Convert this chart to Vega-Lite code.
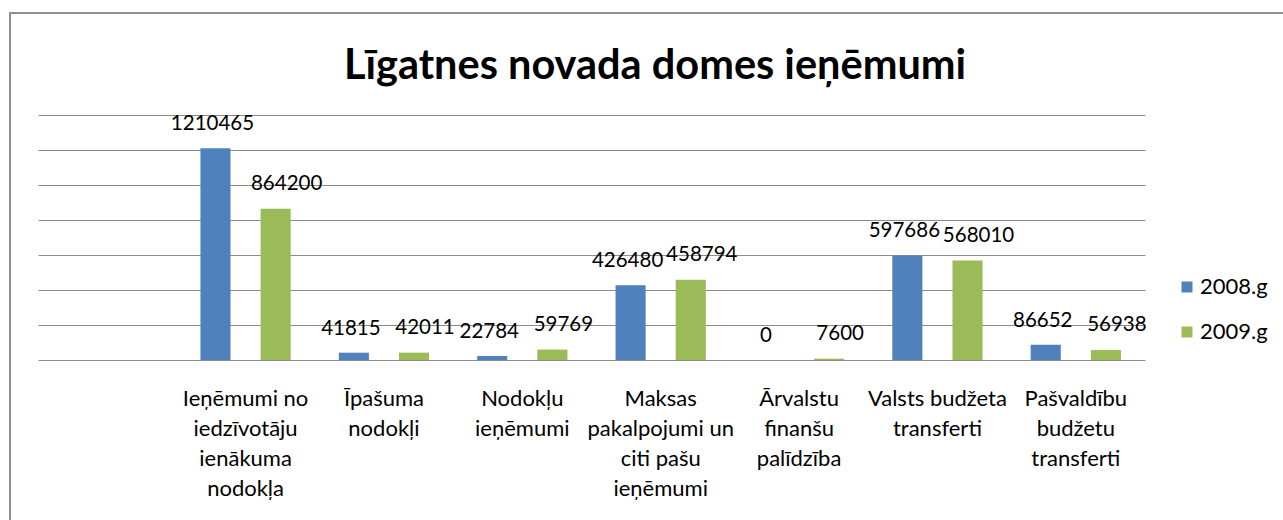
{
  "$schema": "https://vega.github.io/schema/vega-lite/v6.json",
  "width": 1290,
  "height": 520,
  "autosize": {"type": "none"},
  "padding": {"left": 10, "top": 13, "right": 0, "bottom": 0},
  "background": "white",
  "config": {
    "view": {"stroke": "#8f8f8f", "strokeWidth": 2},
    "font": "Lato"
  },
  "title": {
    "text": "Līgatnes novada domes ieņēmumi",
    "orient": "top",
    "anchor": "middle",
    "frame": "group",
    "offset": -107,
    "baseline": "alphabetic",
    "font": "Lato",
    "fontSize": 41.5,
    "fontWeight": "bold",
    "color": "#000000"
  },
  "data": {
    "values": [
      {"category": "Ieņēmumi no iedzīvotāju ienākuma nodokļa", "year": "2008.g", "value": 1210465},
      {"category": "Ieņēmumi no iedzīvotāju ienākuma nodokļa", "year": "2009.g", "value": 864200},
      {"category": "Īpašuma nodokļi", "year": "2008.g", "value": 41815},
      {"category": "Īpašuma nodokļi", "year": "2009.g", "value": 42011},
      {"category": "Nodokļu ieņēmumi", "year": "2008.g", "value": 22784},
      {"category": "Nodokļu ieņēmumi", "year": "2009.g", "value": 59769},
      {"category": "Maksas pakalpojumi un citi pašu ieņēmumi", "year": "2008.g", "value": 426480},
      {"category": "Maksas pakalpojumi un citi pašu ieņēmumi", "year": "2009.g", "value": 458794},
      {"category": "Ārvalstu finanšu palīdzība", "year": "2008.g", "value": 0},
      {"category": "Ārvalstu finanšu palīdzība", "year": "2009.g", "value": 7600},
      {"category": "Valsts budžeta transferti", "year": "2008.g", "value": 597686},
      {"category": "Valsts budžeta transferti", "year": "2009.g", "value": 568010},
      {"category": "Pašvaldību budžetu transferti", "year": "2008.g", "value": 86652},
      {"category": "Pašvaldību budžetu transferti", "year": "2009.g", "value": 56938}
    ]
  },
  "encoding": {
    "x": {
      "field": "category",
      "type": "nominal",
      "sort": null,
      "scale": {
        "domain": [" ", "Ieņēmumi no iedzīvotāju ienākuma nodokļa", "Īpašuma nodokļi", "Nodokļu ieņēmumi", "Maksas pakalpojumi un citi pašu ieņēmumi", "Ārvalstu finanšu palīdzība", "Valsts budžeta transferti", "Pašvaldību budžetu transferti"],
        "range": [28, 1135],
        "paddingInner": 0,
        "paddingOuter": 0
      },
      "axis": {
        "title": null,
        "orient": "bottom",
        "offset": -173,
        "domain": false,
        "ticks": false,
        "grid": false,
        "labelAngle": 0,
        "labelFont": "Lato",
        "labelFontSize": 22,
        "labelColor": "#000000",
        "labelLineHeight": 30,
        "labelPadding": 28,
        "labelLimit": 0,
        "labelOverlap": false,
        "labelBound": false,
        "labelExpr": "datum.value == 'Ieņēmumi no iedzīvotāju ienākuma nodokļa' ? ['Ieņēmumi no', 'iedzīvotāju', 'ienākuma', 'nodokļa'] : datum.value == 'Īpašuma nodokļi' ? ['Īpašuma', 'nodokļi'] : datum.value == 'Nodokļu ieņēmumi' ? ['Nodokļu', 'ieņēmumi'] : datum.value == 'Maksas pakalpojumi un citi pašu ieņēmumi' ? ['Maksas', 'pakalpojumi un', 'citi pašu', 'ieņēmumi'] : datum.value == 'Ārvalstu finanšu palīdzība' ? ['Ārvalstu', 'finanšu', 'palīdzība'] : datum.value == 'Valsts budžeta transferti' ? ['Valsts budžeta', 'transferti'] : datum.value == 'Pašvaldību budžetu transferti' ? ['Pašvaldību', 'budžetu', 'transferti'] : ''"
      }
    },
    "xOffset": {
      "field": "year",
      "type": "nominal",
      "scale": {"paddingInner": 0.5, "paddingOuter": 0.4}
    },
    "y": {
      "field": "value",
      "type": "quantitative",
      "scale": {"domain": [0, 1400000], "range": [347, 102], "nice": false, "zero": true},
      "axis": {
        "title": null,
        "values": [0, 200000, 400000, 600000, 800000, 1000000, 1200000, 1400000],
        "labels": false,
        "ticks": false,
        "domain": false,
        "grid": true,
        "gridColor": "#8c8c8c",
        "gridWidth": 1
      }
    }
  },
  "layer": [
    {
      "mark": {"type": "bar"},
      "encoding": {
        "color": {
          "field": "year",
          "type": "nominal",
          "scale": {"domain": ["2008.g", "2009.g"], "range": ["#4F81BD", "#9BBB59"]},
          "legend": {
            "title": null,
            "orient": "none",
            "legendX": 1166,
            "legendY": 263,
            "symbolType": "square",
            "symbolSize": 121,
            "symbolStrokeWidth": 0,
            "labelFont": "Lato",
            "labelFontSize": 22,
            "labelColor": "#000000",
            "labelOffset": 2,
            "rowPadding": 23,
            "padding": 0
          }
        }
      }
    },
    {
      "transform": [{"filter": "datum.year == '2008.g'"}],
      "mark": {"type": "text", "baseline": "middle", "align": "center", "dy": -24, "dx": -3, "font": "Lato", "fontSize": 20.5, "color": "#000000"},
      "encoding": {
        "text": {"field": "value", "type": "quantitative", "format": "d"}
      }
    },
    {
      "transform": [{"filter": "datum.year == '2009.g'"}],
      "mark": {"type": "text", "baseline": "middle", "align": "center", "dy": -25, "dx": 11, "font": "Lato", "fontSize": 20.5, "color": "#000000"},
      "encoding": {
        "text": {"field": "value", "type": "quantitative", "format": "d"}
      }
    }
  ]
}
